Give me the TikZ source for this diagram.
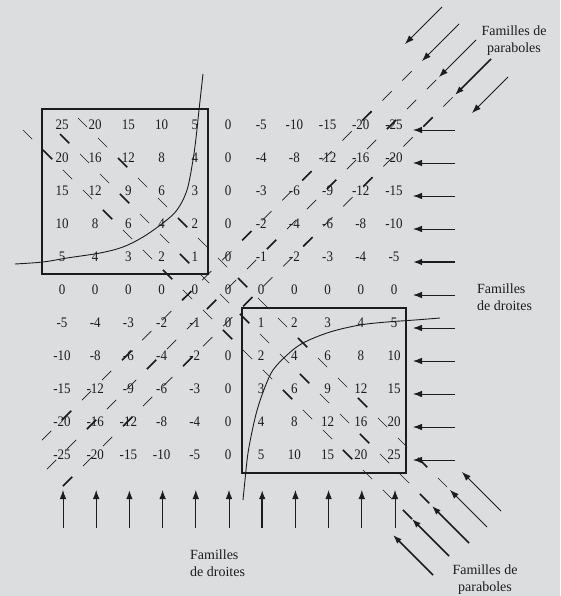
\documentclass[tikz,border=0pt]{standalone}
\usepackage{fontspec}
\setmainfont{Liberation Serif}
\usetikzlibrary{arrows.meta}
\definecolor{bg}{RGB}{220,221,223}
\definecolor{ink}{RGB}{28,28,28}
\begin{document}
\begin{tikzpicture}[x=1pt,y=-1pt,
 num/.style={font=\fontsize{13}{13}\selectfont, inner sep=0pt, text=ink},
 lab/.style={font=\fontsize{14}{17}\selectfont, inner sep=0pt, text=ink},
 arr/.style={draw=ink, line width=0.8pt, -{Latex[length=9pt,width=6.5pt]}},
 arrthick/.style={arr, line width=1.6pt},
 dl/.style={draw=ink, line width=0.7pt, dash pattern=on 13pt off 15.28pt},
 dlthick/.style={draw=ink, line width=1.6pt, dash pattern=on 13pt off 71.85pt},
 boxline/.style={draw=ink, line width=1.1pt},
 curveline/.style={draw=ink, line width=0.9pt},
]
\fill[bg] (0,0) rectangle (560,596);
\useasboundingbox (0,0) rectangle (560,596);

% table of products
\foreach \j in {0,...,10}{
  \foreach \i in {0,...,10}{
    \pgfmathtruncatemacro{\v}{(5-\j)*(5-\i)}
    \node[num] (n\i-\j) at ({62+33.2*\i},{125+33*\j}) {\scalebox{1}[1.12]{\v}};
  }
}

% boxes
\draw[boxline] (42,109) rectangle (208,274);
\draw[boxline] (242,308) rectangle (406,473);

% hyperbolas
\draw[curveline] plot[smooth, tension=0.55] coordinates {(15,264) (43,262) (67,258) (100,253) (123,247) (143,237) (163,223) (177,210) (187,190) (193,160) (196,138) (199,110) (201,92) (203,74)};
\draw[curveline] plot[smooth, tension=0.55] coordinates {(243,500) (245,480) (248,453) (253,427) (258,407) (265,387) (273,370) (287,355) (303,343) (330,332) (360,325) (387,322) (415,320) (440,318)};

% arrow end points
\coordinate (ur1t) at (405,44);  \coordinate (ur1s) at (442,7);
\coordinate (ur2t) at (422,61);  \coordinate (ur2s) at (459,24);
\coordinate (ur3t) at (439,77);  \coordinate (ur3s) at (476,40);
\coordinate (ur4t) at (455,95);  \coordinate (ur4s) at (491,59);
\coordinate (ur5t) at (472,113); \coordinate (ur5s) at (508,77);
\coordinate (lr1t) at (462,472); \coordinate (lr1s) at (501,511);
\coordinate (lr2t) at (450,490); \coordinate (lr2s) at (487,527);
\coordinate (lr3t) at (432,506); \coordinate (lr3s) at (469,543);
\coordinate (lr4t) at (412,519); \coordinate (lr4s) at (449,556);
\coordinate (lr5t) at (393,535); \coordinate (lr5s) at (433,575);

% dashed diagonal families (NW-SE)
\coordinate (a1) at (78,118);  \coordinate (a2) at (60,134);  \coordinate (a3) at (23,130);
\draw[dl] (a1) -- (lr2t);
\draw[dl] (a2) -- (lr3t);
\draw[dl] (a3) -- (lr4t);
\draw[dlthick, dash phase=28.28pt] (a1) -- (lr2t);
\draw[dlthick] (a2) -- (lr3t);
\draw[dlthick, dash phase=56.57pt] (a3) -- (lr4t);
% dashed diagonal families (NE-SW)
\coordinate (b1) at (42,440); \coordinate (b2) at (47,469); \coordinate (b3) at (63,486);
\draw[dl] (b1) -- (ur2t);
\draw[dl] (b2) -- (ur3t);
\draw[dl] (b3) -- (ur4t);
\draw[dlthick, dash phase=56.57pt] (b1) -- (ur2t);
\draw[dlthick, dash phase=28.28pt] (b2) -- (ur3t);
\draw[dlthick] (b3) -- (ur4t);

% diagonal arrows
\draw[arr] (ur1s) -- (ur1t);
\draw[arr] (ur2s) -- (ur2t);
\draw[arr] (ur3s) -- (ur3t);
\draw[arrthick] (ur4s) -- (ur4t);
\draw[arr] (ur5s) -- (ur5t);
\draw[arr] (lr1s) -- (lr1t);
\draw[arr] (lr2s) -- (lr2t);
\draw[arrthick] (lr3s) -- (lr3t);
\draw[arrthick] (lr4s) -- (lr4t);
\draw[arrthick] (lr5s) -- (lr5t);

% horizontal arrows
\foreach \j in {0,...,10}{
  \coordinate (hs\j) at (455,{130+33*\j});
  \coordinate (ht\j) at (413,{130+33*\j});
}
\foreach \j in {0,1,2,3,5,6,7,8,9,10}{ \draw[arr] (hs\j) -- (ht\j); }
\draw[arrthick] (hs4) -- (ht4);

% vertical arrows
\foreach \i in {0,...,10}{
  \coordinate (vs\i) at ({63+33.2*\i},528);
  \coordinate (vt\i) at ({63+33.2*\i},490);
}
\foreach \i in {0,1,3,4,5,7,8,9,10}{ \draw[arr] (vs\i) -- (vt\i); }
\draw[arrthick] (vs2) -- (vt2);
\draw[arrthick] (vs6) -- (vt6);

% labels
\node[lab, align=center] (l1) at (514,41) {Familles de\\paraboles};
\node[lab, align=left, anchor=west] (l2) at (477,297) {Familles\\de droites};
\node[lab, align=left, anchor=west] (l3) at (190,563) {Familles\\de droites};
\node[lab, align=center] (l4) at (485,580) {Familles de\\paraboles};
\end{tikzpicture}
\end{document}
